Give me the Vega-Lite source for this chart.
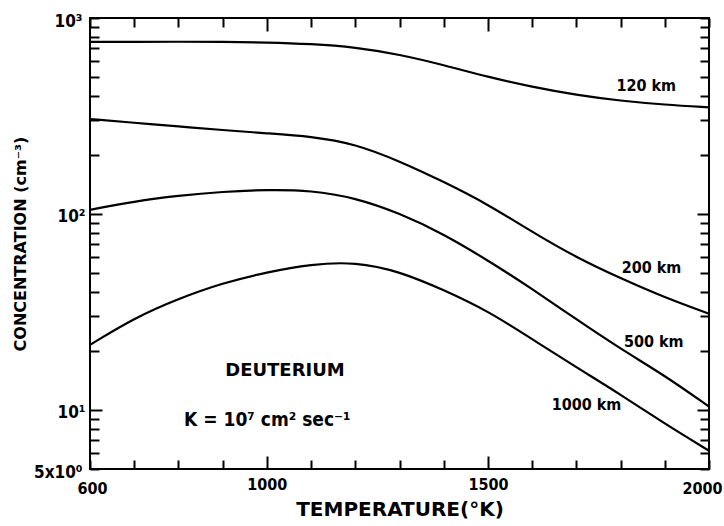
{
  "$schema": "https://vega.github.io/schema/vega-lite/v6.json",
  "width": 619,
  "height": 451,
  "autosize": {"type": "none"},
  "padding": {"left": 90, "top": 18, "right": 15, "bottom": 57},
  "background": "white",
  "config": {
    "view": {"stroke": "black", "strokeWidth": 2},
    "axis": {
      "domain": false, "grid": false,
      "tickColor": "black", "tickWidth": 2,
      "labelColor": "black", "titleColor": "black",
      "labelFont": "DejaVu Sans Condensed", "titleFont": "DejaVu Sans",
      "labelFontWeight": "bold", "titleFontWeight": "bold"
    },
    "text": {"font": "DejaVu Sans Condensed", "fontWeight": "bold", "color": "black"}
  },
  "datasets": {
    "curves": [
      {"series": "120 km", "T": 600, "C": 755}, {"series": "120 km", "T": 700, "C": 756}, {"series": "120 km", "T": 800, "C": 757}, {"series": "120 km", "T": 900, "C": 756}, {"series": "120 km", "T": 1000, "C": 751}, {"series": "120 km", "T": 1100, "C": 738}, {"series": "120 km", "T": 1200, "C": 710}, {"series": "120 km", "T": 1300, "C": 652}, {"series": "120 km", "T": 1400, "C": 576}, {"series": "120 km", "T": 1500, "C": 500}, {"series": "120 km", "T": 1600, "C": 445}, {"series": "120 km", "T": 1700, "C": 405}, {"series": "120 km", "T": 1800, "C": 378}, {"series": "120 km", "T": 1900, "C": 361}, {"series": "120 km", "T": 2000, "C": 350},
      {"series": "200 km", "T": 600, "C": 305}, {"series": "200 km", "T": 700, "C": 292}, {"series": "200 km", "T": 800, "C": 280}, {"series": "200 km", "T": 900, "C": 268}, {"series": "200 km", "T": 1000, "C": 258}, {"series": "200 km", "T": 1100, "C": 249}, {"series": "200 km", "T": 1200, "C": 228}, {"series": "200 km", "T": 1300, "C": 186}, {"series": "200 km", "T": 1400, "C": 146}, {"series": "200 km", "T": 1500, "C": 112}, {"series": "200 km", "T": 1600, "C": 81}, {"series": "200 km", "T": 1700, "C": 60}, {"series": "200 km", "T": 1800, "C": 47}, {"series": "200 km", "T": 1900, "C": 37.5}, {"series": "200 km", "T": 2000, "C": 31},
      {"series": "500 km", "T": 600, "C": 105}, {"series": "500 km", "T": 700, "C": 116}, {"series": "500 km", "T": 800, "C": 124}, {"series": "500 km", "T": 900, "C": 130}, {"series": "500 km", "T": 1000, "C": 133}, {"series": "500 km", "T": 1100, "C": 132}, {"series": "500 km", "T": 1200, "C": 121}, {"series": "500 km", "T": 1300, "C": 101}, {"series": "500 km", "T": 1400, "C": 79}, {"series": "500 km", "T": 1500, "C": 58}, {"series": "500 km", "T": 1600, "C": 41.5}, {"series": "500 km", "T": 1700, "C": 29}, {"series": "500 km", "T": 1800, "C": 20.5}, {"series": "500 km", "T": 1900, "C": 15}, {"series": "500 km", "T": 2000, "C": 10.4},
      {"series": "1000 km", "T": 600, "C": 21.5}, {"series": "1000 km", "T": 700, "C": 29.5}, {"series": "1000 km", "T": 800, "C": 37}, {"series": "1000 km", "T": 900, "C": 44.5}, {"series": "1000 km", "T": 1000, "C": 50.5}, {"series": "1000 km", "T": 1100, "C": 55.5}, {"series": "1000 km", "T": 1200, "C": 57}, {"series": "1000 km", "T": 1300, "C": 51}, {"series": "1000 km", "T": 1400, "C": 41}, {"series": "1000 km", "T": 1500, "C": 32}, {"series": "1000 km", "T": 1600, "C": 23}, {"series": "1000 km", "T": 1700, "C": 16.5}, {"series": "1000 km", "T": 1800, "C": 12}, {"series": "1000 km", "T": 1900, "C": 8.5}, {"series": "1000 km", "T": 2000, "C": 6.2}
    ],
    "curveLabels": [
      {"label": "120 km", "T": 1858, "C": 450},
      {"label": "200 km", "T": 1870, "C": 53},
      {"label": "500 km", "T": 1875, "C": 22.2},
      {"label": "1000 km", "T": 1723, "C": 10.6}
    ],
    "title1": [{"label": "DEUTERIUM", "T": 1041, "C": 15.9}],
    "title2": [{"label": "K = 10⁷ cm² sec⁻¹", "T": 1001, "C": 8.9}]
  },
  "layer": [
    {
      "data": {"name": "curves"},
      "mark": {"type": "line", "interpolate": "basis", "color": "black", "strokeWidth": 2.2},
      "encoding": {
        "x": {
          "field": "T", "type": "quantitative",
          "scale": {"domain": [600, 2000], "nice": false, "zero": false},
          "axis": {
            "orient": "bottom",
            "values": [600, 700, 800, 900, 1000, 1100, 1200, 1300, 1400, 1500, 1600, 1700, 1800, 1900, 2000],
            "labelExpr": "datum.value == 600 || datum.value == 1000 || datum.value == 1500 || datum.value == 2000 ? datum.value : ''",
            "tickSize": {"condition": {"test": "datum.value == 1000 || datum.value == 1500", "value": -13}, "value": -9},
            "labelPadding": 20, "labelFontSize": 16, "labelFlush": true, "labelFlushOffset": 13,
            "title": "TEMPERATURE(°K)", "titleFontSize": 20, "titlePadding": 3
          }
        },
        "y": {
          "field": "C", "type": "quantitative",
          "scale": {"type": "log", "domain": [5, 1000], "nice": false},
          "axis": {
            "orient": "left",
            "values": [5, 6, 7, 8, 9, 10, 20, 30, 40, 50, 60, 70, 80, 90, 100, 200, 300, 400, 500, 600, 700, 800, 900, 1000],
            "labelExpr": "datum.value == 1000 ? '10³' : datum.value == 100 ? '10²' : datum.value == 10 ? '10¹' : datum.value == 5 ? '5x10⁰' : ''",
            "tickSize": {"condition": {"test": "datum.value == 10 || datum.value == 100", "value": -12}, "value": -9},
            "labelPadding": 17, "labelFontSize": 17, "labelFlush": false, "labelOffset": 3,
            "title": "CONCENTRATION (cm⁻³)", "titleFontSize": 16, "titlePadding": 5
          }
        },
        "detail": {"field": "series", "type": "nominal"}
      }
    },
    {
      "data": {"name": "curveLabels"},
      "mark": {"type": "text", "fontSize": 16, "align": "center", "baseline": "middle"},
      "encoding": {
        "x": {
          "field": "T", "type": "quantitative",
          "scale": {"domain": [600, 2000], "nice": false, "zero": false},
          "axis": {
            "orient": "top", "labels": false, "title": null,
            "values": [600, 700, 800, 900, 1000, 1100, 1200, 1300, 1400, 1500, 1600, 1700, 1800, 1900, 2000],
            "tickSize": {"condition": {"test": "datum.value == 1000 || datum.value == 1500", "value": -13}, "value": -9}
          }
        },
        "y": {
          "field": "C", "type": "quantitative",
          "scale": {"type": "log", "domain": [5, 1000], "nice": false},
          "axis": {
            "orient": "right", "labels": false, "title": null,
            "values": [5, 6, 7, 8, 9, 10, 20, 30, 40, 50, 60, 70, 80, 90, 100, 200, 300, 400, 500, 600, 700, 800, 900, 1000],
            "tickSize": {"condition": {"test": "datum.value == 10 || datum.value == 100", "value": -12}, "value": -9}
          }
        },
        "text": {"field": "label", "type": "nominal"}
      }
    },
    {
      "data": {"name": "title1"},
      "mark": {"type": "text", "font": "DejaVu Sans", "fontSize": 18, "letterSpacing": 1.5, "align": "center", "baseline": "middle"},
      "encoding": {
        "x": {"field": "T", "type": "quantitative", "axis": null},
        "y": {"field": "C", "type": "quantitative", "axis": null},
        "text": {"field": "label", "type": "nominal"}
      }
    },
    {
      "data": {"name": "title2"},
      "mark": {"type": "text", "fontSize": 19, "align": "center", "baseline": "middle"},
      "encoding": {
        "x": {"field": "T", "type": "quantitative", "axis": null},
        "y": {"field": "C", "type": "quantitative", "axis": null},
        "text": {"field": "label", "type": "nominal"}
      }
    }
  ],
  "resolve": {"axis": {"x": "independent", "y": "independent"}}
}
